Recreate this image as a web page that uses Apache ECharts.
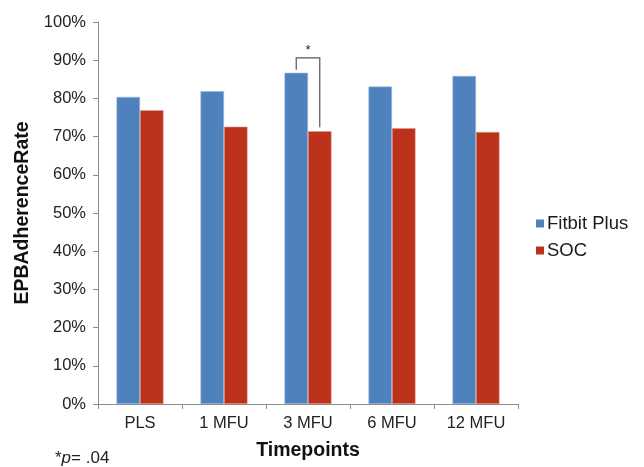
<!DOCTYPE html>
<html>
<head>
<meta charset="utf-8">
<script src="https://cdn.jsdelivr.net/npm/echarts@6/dist/echarts.min.js"></script>
<style>
  html, body { margin: 0; padding: 0; background: #fff; }
  #main { width: 644px; height: 467px; }
</style>
</head>
<body>
<div id="main"></div>
<script>
// 数据
var timepoints = ['PLS', '1 MFU', '3 MFU', '6 MFU', '12 MFU'];
var fitbitPlus = [80.4, 81.9, 86.7, 83.1, 85.9];
var soc = [76.9, 72.6, 71.4, 72.2, 71.2];
var yTicks = [0, 10, 20, 30, 40, 50, 60, 70, 80, 90, 100];

var font = 'Liberation Sans, Arial, sans-serif';
var myChart = echarts.init(document.getElementById('main'));

myChart.setOption({
    animation: false,
    textStyle: { fontFamily: font },
    grid: { left: 98, right: 126, top: 22, bottom: 63 },
    legend: {
        orient: 'vertical',
        left: 536,
        top: 214,
        padding: 0,
        itemWidth: 8,
        itemHeight: 8,
        itemGap: 8,
        icon: 'rect',
        itemStyle: { borderWidth: 0 },
        textStyle: { fontSize: 18.5, color: '#1a1a1a', fontFamily: font, padding: [0, 0, 0, -2] },
        data: ['Fitbit Plus', 'SOC']
    },
    xAxis: {
        type: 'category',
        data: timepoints,
        name: 'Timepoints',
        nameLocation: 'middle',
        nameGap: 37,
        nameTextStyle: { fontSize: 19.5, fontWeight: 'bold', color: '#111', fontFamily: font },
        axisLine: { lineStyle: { color: '#8c8c8c', width: 1 } },
        axisTick: { show: true, length: 5, lineStyle: { color: '#8c8c8c' } },
        axisLabel: { fontSize: 16.5, color: '#222', margin: 11, fontFamily: font }
    },
    yAxis: {
        type: 'value',
        min: 0,
        max: 100,
        interval: 10,
        name: 'EPBAdherenceRate',
        nameLocation: 'middle',
        nameGap: 61,
        nameTextStyle: { fontSize: 19.5, fontWeight: 'bold', color: '#111', fontFamily: font },
        axisLine: { show: true, lineStyle: { color: '#8c8c8c', width: 1 } },
        axisTick: { show: true, length: 5, inside: false, lineStyle: { color: '#8c8c8c' } },
        splitLine: { show: false },
        axisLabel: {
            fontSize: 16.5, color: '#222', margin: 12, fontFamily: font,
            formatter: function (v) { return yTicks.indexOf(v) >= 0 ? v + '%' : ''; }
        }
    },
    series: [
        {
            name: 'Fitbit Plus',
            type: 'bar',
            data: fitbitPlus,
            barGap: '0%',
            barCategoryGap: '44%',
            itemStyle: { color: '#4F81BD', borderColor: '#9DB9DE', borderWidth: 0.6 }
        },
        {
            name: 'SOC',
            type: 'bar',
            data: soc,
            itemStyle: { color: '#BC311A', borderColor: '#E39A8C', borderWidth: 0.6 }
        }
    ]
});

// 显著性标记 (3 MFU)
var sigIdx = 2;
var xAxisObj = myChart.getModel().getComponent('xAxis').axis;
var band = xAxisObj.getBandWidth();
var barW = band * (1 - 0.44) / 2;
var center = myChart.convertToPixel({ xAxisIndex: 0 }, sigIdx);
var xL = center - barW / 2;
var xR = center + barW / 2;
var yTop = myChart.convertToPixel({ yAxisIndex: 0 }, 90.6);
var yL = myChart.convertToPixel({ yAxisIndex: 0 }, fitbitPlus[sigIdx]) - 3;
var yR = myChart.convertToPixel({ yAxisIndex: 0 }, soc[sigIdx]) - 4;

myChart.setOption({
    graphic: [
        {
            type: 'polyline',
            shape: { points: [[xL, yL], [xL, yTop], [xR, yTop], [xR, yR]] },
            style: { stroke: '#555', lineWidth: 1.2, fill: null }
        },
        {
            type: 'text',
            x: (xL + xR) / 2,
            y: yTop - 1,
            style: { text: '*', font: '13px ' + font, fill: '#222', align: 'center', verticalAlign: 'bottom' }
        },
        {
            type: 'text',
            left: 55,
            top: 450,
            style: {
                text: '{a|*}{i|p}{a|= .04}',
                rich: {
                    a: { fontSize: 17, fontFamily: font, fill: '#222' },
                    i: { fontSize: 17, fontFamily: font, fontStyle: 'italic', fill: '#222' }
                }
            }
        }
    ]
});
</script>
</body>
</html>
